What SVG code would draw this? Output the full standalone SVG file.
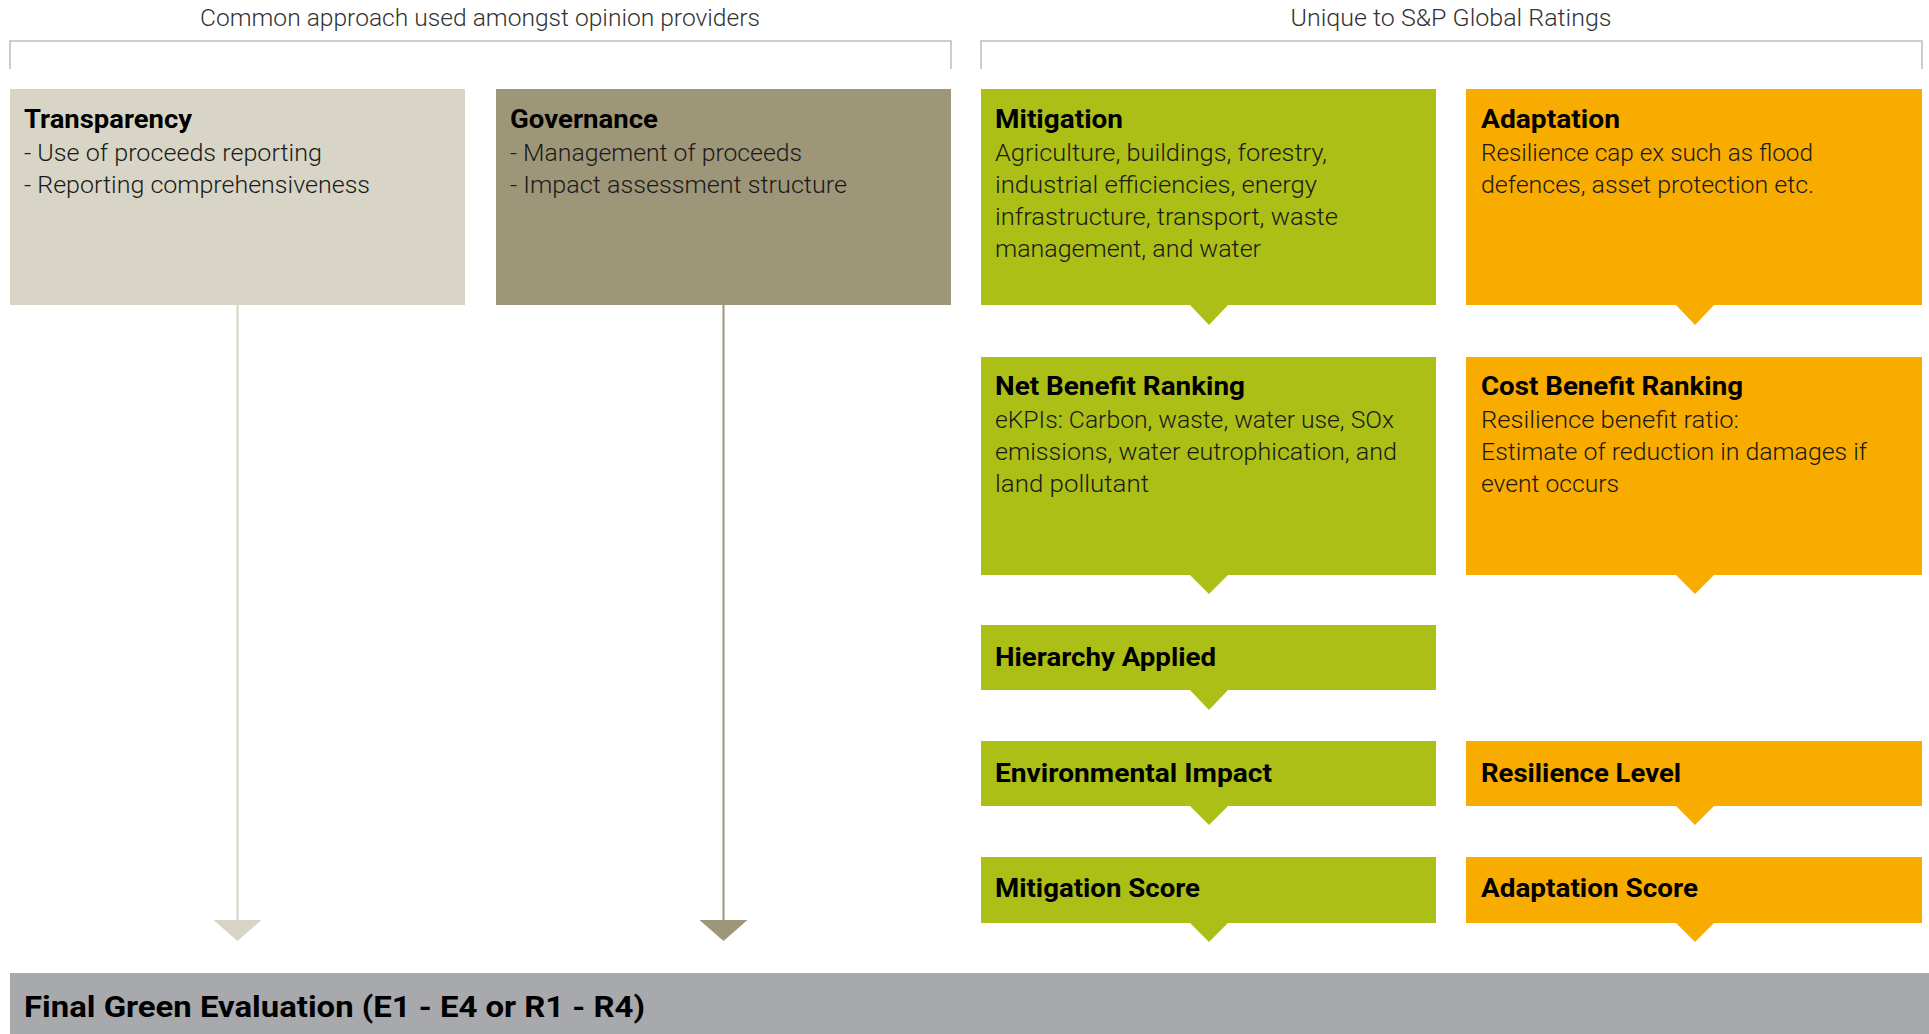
<svg xmlns="http://www.w3.org/2000/svg" width="1929" height="1034" viewBox="0 0 1929 1034">
<style>
.hdr{font-family:Roboto,"Liberation Sans",sans-serif;font-weight:300;font-size:23px;fill:#333}
.ttl{font-family:Roboto,"Liberation Sans",sans-serif;font-weight:700;font-size:25px;fill:#000}
.bdy{font-family:Roboto,"Liberation Sans",sans-serif;font-weight:300;font-size:23px;fill:#1a1a1a}
.fin{font-family:Roboto,"Liberation Sans",sans-serif;font-weight:700;font-size:30px;fill:#000}
.brk{fill:none;stroke:#bdbdbd;stroke-width:1.5}
.tan{fill:#d8d5c6}
.tau{fill:#9e9679}
.grn{fill:#acbf16}
.org{fill:#f8ac00}
</style>
<defs>
<marker id="aTan" markerUnits="userSpaceOnUse" markerWidth="21" markerHeight="48" viewBox="0 0 21 48" refX="0" refY="24" orient="auto"><path d="M0,0 L21,24 L0,48 Z" fill="#d8d5c6"/></marker>
<marker id="aTau" markerUnits="userSpaceOnUse" markerWidth="21" markerHeight="48" viewBox="0 0 21 48" refX="0" refY="24" orient="auto"><path d="M0,0 L21,24 L0,48 Z" fill="#9e9679"/></marker>
</defs>
<rect width="1929" height="1034" fill="#fff"/>
<g id="headers">
<text class="hdr" x="480" y="26" text-anchor="middle" textLength="560" lengthAdjust="spacingAndGlyphs">Common approach used amongst opinion providers</text>
<path class="brk" d="M10,69 V41 H951 V69"/>
<text class="hdr" x="1451" y="26" text-anchor="middle" textLength="321" lengthAdjust="spacingAndGlyphs">Unique to S&amp;P Global Ratings</text>
<path class="brk" d="M981,69 V41 H1922 V69"/>
</g>
<g id="connectors">
<line x1="237.5" y1="305" x2="237.5" y2="920" stroke="#d8d5c6" stroke-width="2" marker-end="url(#aTan)"/>
<line x1="723.5" y1="305" x2="723.5" y2="920" stroke="#9e9679" stroke-width="2" marker-end="url(#aTau)"/>
</g>
<g id="transparency">
<rect class="tan" x="10" y="89" width="455" height="216"/>
<text class="ttl" x="24" y="128" textLength="168" lengthAdjust="spacingAndGlyphs">Transparency</text>
<text class="bdy" x="24" y="161" textLength="298" lengthAdjust="spacingAndGlyphs">- Use of proceeds reporting</text>
<text class="bdy" x="24" y="193" textLength="346" lengthAdjust="spacingAndGlyphs">- Reporting comprehensiveness</text>
</g>
<g id="governance">
<rect class="tau" x="496" y="89" width="455" height="216"/>
<text class="ttl" x="510" y="128" textLength="148" lengthAdjust="spacingAndGlyphs">Governance</text>
<text class="bdy" x="510" y="161" textLength="292" lengthAdjust="spacingAndGlyphs">- Management of proceeds</text>
<text class="bdy" x="510" y="193" textLength="337" lengthAdjust="spacingAndGlyphs">- Impact assessment structure</text>
</g>
<g id="mitigation">
<path class="grn" d="M981,89 H1436 V305 H1228 L1209,325 L1190,305 H981 Z"/>
<text class="ttl" x="995" y="128" textLength="128" lengthAdjust="spacingAndGlyphs">Mitigation</text>
<text class="bdy" x="995" y="161" textLength="332" lengthAdjust="spacingAndGlyphs">Agriculture, buildings, forestry,</text>
<text class="bdy" x="995" y="193" textLength="322" lengthAdjust="spacingAndGlyphs">industrial efficiencies, energy</text>
<text class="bdy" x="995" y="225" textLength="343" lengthAdjust="spacingAndGlyphs">infrastructure, transport, waste</text>
<text class="bdy" x="995" y="257" textLength="266" lengthAdjust="spacingAndGlyphs">management, and water</text>
</g>
<g id="adaptation">
<path class="org" d="M1466,89 H1922 V305 H1714 L1695,325 L1676,305 H1466 Z"/>
<text class="ttl" x="1481" y="128" textLength="139" lengthAdjust="spacingAndGlyphs">Adaptation</text>
<text class="bdy" x="1481" y="161" textLength="332" lengthAdjust="spacingAndGlyphs">Resilience cap ex such as flood</text>
<text class="bdy" x="1481" y="193" textLength="333" lengthAdjust="spacingAndGlyphs">defences, asset protection etc.</text>
</g>
<g id="net-benefit-ranking">
<path class="grn" d="M981,357 H1436 V575 H1228 L1209,594 L1190,575 H981 Z"/>
<text class="ttl" x="995" y="395" textLength="250" lengthAdjust="spacingAndGlyphs">Net Benefit Ranking</text>
<text class="bdy" x="995" y="428" textLength="399" lengthAdjust="spacingAndGlyphs">eKPIs: Carbon, waste, water use, SOx</text>
<text class="bdy" x="995" y="460" textLength="402" lengthAdjust="spacingAndGlyphs">emissions, water eutrophication, and</text>
<text class="bdy" x="995" y="492" textLength="154" lengthAdjust="spacingAndGlyphs">land pollutant</text>
</g>
<g id="cost-benefit-ranking">
<path class="org" d="M1466,357 H1922 V575 H1714 L1695,594 L1676,575 H1466 Z"/>
<text class="ttl" x="1481" y="395" textLength="262" lengthAdjust="spacingAndGlyphs">Cost Benefit Ranking</text>
<text class="bdy" x="1481" y="428" textLength="258" lengthAdjust="spacingAndGlyphs">Resilience benefit ratio:</text>
<text class="bdy" x="1481" y="460" textLength="386" lengthAdjust="spacingAndGlyphs">Estimate of reduction in damages if</text>
<text class="bdy" x="1481" y="492" textLength="138" lengthAdjust="spacingAndGlyphs">event occurs</text>
</g>
<g id="hierarchy-applied">
<path class="grn" d="M981,625 H1436 V690 H1228 L1209,710 L1190,690 H981 Z"/>
<text class="ttl" x="995" y="666" textLength="221" lengthAdjust="spacingAndGlyphs">Hierarchy Applied</text>
</g>
<g id="environmental-impact">
<path class="grn" d="M981,741 H1436 V806 H1228 L1209,825 L1190,806 H981 Z"/>
<text class="ttl" x="995" y="782" textLength="277" lengthAdjust="spacingAndGlyphs">Environmental Impact</text>
</g>
<g id="resilience-level">
<path class="org" d="M1466,741 H1922 V806 H1714 L1695,825 L1676,806 H1466 Z"/>
<text class="ttl" x="1481" y="782" textLength="200" lengthAdjust="spacingAndGlyphs">Resilience Level</text>
</g>
<g id="mitigation-score">
<path class="grn" d="M981,857 H1436 V923 H1228 L1209,942 L1190,923 H981 Z"/>
<text class="ttl" x="995" y="897" textLength="205" lengthAdjust="spacingAndGlyphs">Mitigation Score</text>
</g>
<g id="adaptation-score">
<path class="org" d="M1466,857 H1922 V923 H1714 L1695,942 L1676,923 H1466 Z"/>
<text class="ttl" x="1481" y="897" textLength="217" lengthAdjust="spacingAndGlyphs">Adaptation Score</text>
</g>
<g id="final-green-evaluation">
<rect x="10" y="973" width="1919" height="61" fill="#a8a9ad"/>
<text class="fin" x="24" y="1017" textLength="621" lengthAdjust="spacingAndGlyphs">Final Green Evaluation (E1 - E4 or R1 - R4)</text>
</g>
</svg>
